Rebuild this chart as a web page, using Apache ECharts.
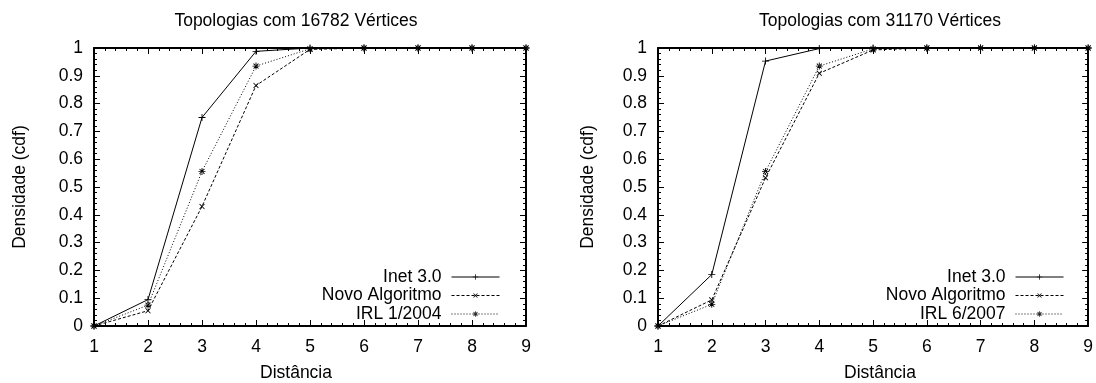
<!DOCTYPE html>
<html>
<head>
<meta charset="utf-8">
<script src="https://cdn.jsdelivr.net/npm/echarts@6/dist/echarts.min.js"></script>
<style>
  html, body { margin: 0; padding: 0; background: #fff; }
  #chart { width: 1096px; height: 383px; }
</style>
</head>
<body>
<div id="chart"></div>
<script>
// Hop distances (x axis)
const distances = [1, 2, 3, 4, 5, 6, 7, 8, 9];

// Cumulative density per distance, 16782-vertex topologies
const inet16782 = [0, 0.095, 0.75, 0.988, 1, 1, 1, 1, 1];
const novo16782 = [0, 0.055, 0.43, 0.865, 0.995, 1, 1, 1, 1];
const irl2004   = [0, 0.075, 0.556, 0.935, 0.997, 1, 1, 1, 1];

// Cumulative density per distance, 31170-vertex topologies
const inet31170 = [0, 0.185, 0.953, 0.998, 1, 1, 1, 1, 1];
const novo31170 = [0, 0.094, 0.533, 0.909, 0.993, 1, 1, 1, 1];
const irl2007   = [0, 0.078, 0.556, 0.935, 0.997, 1, 1, 1, 1];

// Tick labels
const xTicks = ['1', '2', '3', '4', '5', '6', '7', '8', '9'];
const yTicks = ['0', '0.1', '0.2', '0.3', '0.4', '0.5', '0.6', '0.7', '0.8', '0.9', '1'];

const panelTitles = ['Topologias com 16782 Vértices', 'Topologias com 31170 Vértices'];
const xName = 'Distância';
const yName = 'Densidade (cdf)';
const inetName = 'Inet 3.0';
const novoName = 'Novo Algoritmo';
const irlNames = ['IRL 1/2004', 'IRL 6/2007'];

const FONT = '"Liberation Sans", Arial, sans-serif';
const FS = 17.5;

// Point markers drawn as thin filled bars: plus, cross (rotated plus), star
const PLUS = 'path://M-0.5,-4H0.5V-0.5H4V0.5H0.5V4H-0.5V0.5H-4V-0.5H-0.5Z';
const STAR = 'path://M-0.5,-4H0.5V-0.5H4V0.5H0.5V4H-0.5V0.5H-4V-0.5H-0.5Z' +
             'M-3.2,-2.5L2.5,3.2L3.2,2.5L-2.5,-3.2Z' +
             'M2.5,-3.2L3.2,-2.5L-2.5,3.2L-3.2,2.5Z';

function pairs(ys) { return distances.map((d, i) => [d, ys[i]]); }

const grids = [
  { left: 94, top: 48, width: 432, height: 278 },
  { left: 658, top: 48, width: 432, height: 278 }
];

function xAxisFor(gi, pos) {
  const main = pos === 'bottom';
  return {
    type: 'value', gridIndex: gi, position: pos,
    min: 1, max: 9, interval: 1,
    axisLine: { show: true, onZero: false, lineStyle: { color: '#000', width: 2 } },
    axisTick: { show: true, inside: true, length: 6, lineStyle: { color: '#000', width: 1 } },
    minorTick: { show: true, splitNumber: 5, length: 3, lineStyle: { color: '#000', width: 1 } },
    splitLine: { show: false },
    axisLabel: {
      show: main, margin: 12, color: '#000', fontFamily: FONT, fontSize: FS,
      formatter: v => xTicks[Math.round(v) - 1]
    }
  };
}

function yAxisFor(gi, pos) {
  const main = pos === 'left';
  return {
    type: 'value', gridIndex: gi, position: pos,
    min: 0, max: 1, interval: 0.1,
    axisLine: { show: true, onZero: false, lineStyle: { color: '#000', width: 2 } },
    axisTick: { show: true, inside: true, length: 6, lineStyle: { color: '#000', width: 1 } },
    minorTick: { show: true, splitNumber: 5, length: 3, lineStyle: { color: '#000', width: 1 } },
    splitLine: { show: false },
    axisLabel: {
      show: main, margin: 11, color: '#000', fontFamily: FONT, fontSize: FS,
      formatter: v => yTicks[Math.round(v * 10)]
    }
  };
}

function lineSeries(name, ys, gi, dash, symbol, rotate, size) {
  return {
    type: 'line', name: name,
    xAxisIndex: gi * 2, yAxisIndex: gi * 2,
    data: pairs(ys),
    symbol: symbol, symbolSize: size, symbolRotate: rotate,
    showAllSymbol: true,
    lineStyle: { color: '#000', width: 1, type: dash },
    itemStyle: { color: '#000', borderWidth: 0 },
    emphasis: { disabled: true },
    animation: false
  };
}

const series = [
  lineSeries(inetName, inet16782, 0, 'solid', PLUS, 0, 7),
  lineSeries(novoName, novo16782, 0, [3, 2], PLUS, 45, 7),
  lineSeries(irlNames[0], irl2004, 0, [1, 2], STAR, 0, 7),
  lineSeries(inetName, inet31170, 1, 'solid', PLUS, 0, 7),
  lineSeries(novoName, novo31170, 1, [3, 2], PLUS, 45, 7),
  lineSeries(irlNames[1], irl2007, 1, [1, 2], STAR, 0, 7)
];

function legendFor(names, right) {
  return {
    data: names, orient: 'vertical', right: right, top: 268,
    align: 'right', itemWidth: 48, itemHeight: 7, itemGap: 0.5, padding: 0,
    selectedMode: false,
    lineStyle: { width: 1 },
    itemStyle: { borderWidth: 0 },
    textStyle: { color: '#000', fontFamily: FONT, fontSize: FS, padding: [0, 5, 0, 0] }
  };
}

function text(x, y, str, rot) {
  return {
    type: 'text', x: x, y: y, rotation: rot || 0,
    style: { text: str, fill: '#000', font: FS + 'px ' + FONT, align: 'center', verticalAlign: 'middle' }
  };
}

const chart = echarts.init(document.getElementById('chart'), null, { renderer: 'canvas' });
chart.setOption({
  backgroundColor: '#fff',
  animation: false,
  grid: grids,
  xAxis: [xAxisFor(0, 'bottom'), xAxisFor(0, 'top'), xAxisFor(1, 'bottom'), xAxisFor(1, 'top')],
  yAxis: [yAxisFor(0, 'left'), yAxisFor(0, 'right'), yAxisFor(1, 'left'), yAxisFor(1, 'right')],
  legend: [
    legendFor([inetName, novoName, irlNames[0]], 596),
    legendFor([inetName, novoName, irlNames[1]], 32)
  ],
  graphic: [
    text(296, 21, panelTitles[0]),
    text(880, 21, panelTitles[1]),
    text(296, 373, xName),
    text(880, 373, xName),
    text(20, 187, yName, Math.PI / 2),
    text(588, 187, yName, Math.PI / 2)
  ],
  series: series
});
</script>
</body>
</html>
